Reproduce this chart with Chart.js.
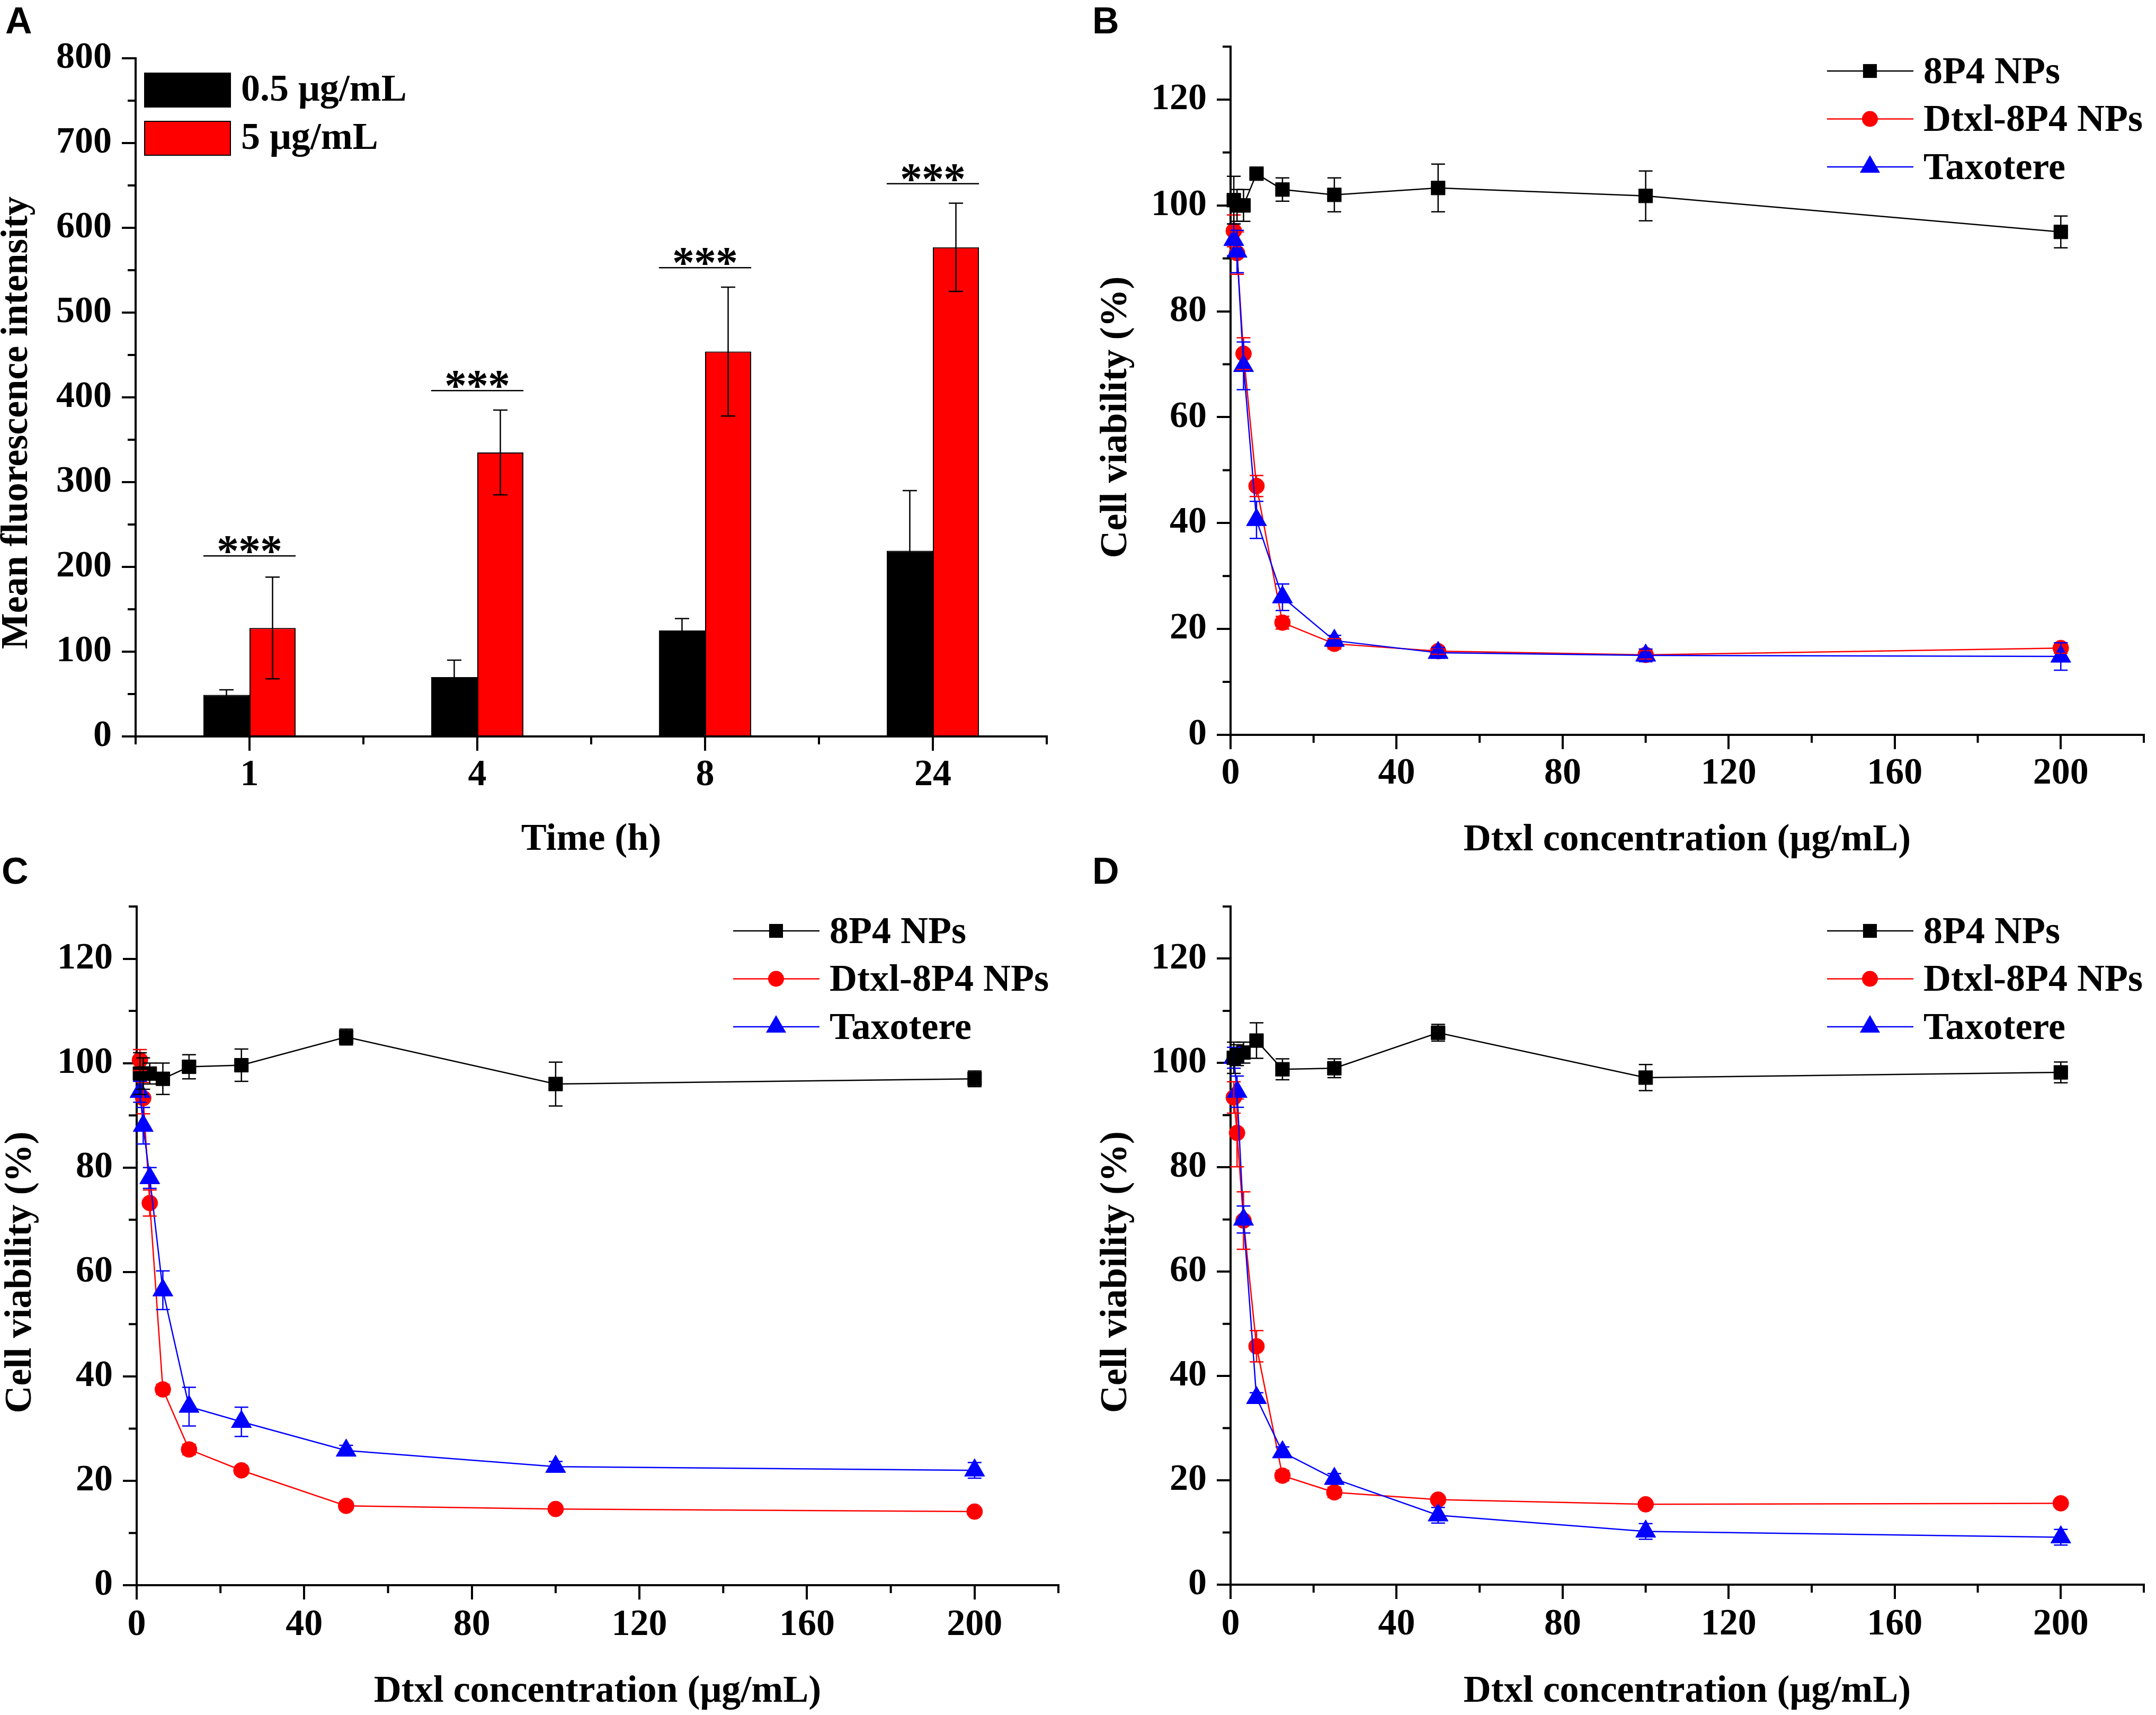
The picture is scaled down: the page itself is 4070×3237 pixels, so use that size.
<!DOCTYPE html>
<html lang="en">
<head>
<meta charset="utf-8">
<title>Uptake and cell viability</title>
<script src="https://cdn.jsdelivr.net/npm/chart.js@4.4.1/dist/chart.umd.min.js"></script>
<style>
  html, body { margin: 0; padding: 0; background: #fff; }
  #page { position: relative; width: 4070px; height: 3237px; overflow: hidden; background: #fff; }
  #page canvas { position: absolute; }
  .letter { position: absolute; margin: 0; color: #000; font: bold 70px "Liberation Sans", Arial, sans-serif; line-height: 70px; }
</style>
</head>
<body>
<div id="page">
  <canvas id="chartA" width="2035" height="1650" style="left:0;top:0;width:2035px;height:1650px"></canvas>
  <canvas id="chartB" width="2035" height="1650" style="left:2035px;top:0;width:2035px;height:1650px"></canvas>
  <canvas id="chartC" width="2035" height="1587" style="left:0;top:1650px;width:2035px;height:1587px"></canvas>
  <canvas id="chartD" width="2035" height="1587" style="left:2035px;top:1650px;width:2035px;height:1587px"></canvas>
  <div class="letter" style="left:10px;top:4px">A</div>
  <div class="letter" style="left:2062px;top:4px">B</div>
  <div class="letter" style="left:3px;top:1609px">C</div>
  <div class="letter" style="left:2062px;top:1609px">D</div>
</div>
<script>
// ---- panel A : mean fluorescence intensity ----
const timeLabels = ["1", "4", "8", "24"];
const mfiLow = [49, 70, 125, 219];
const mfiLowErr = [6, 20, 14, 71];
const mfiHigh = [128, 335, 454, 577];
const mfiHighErr = [60, 50, 76, 52];
const sigLevels = [213, 408, 553, 652];
const mfiTicks = [0, 100, 200, 300, 400, 500, 600, 700, 800];
const mfiMinor = [50, 150, 250, 350, 450, 550, 650, 750];
const timeMinor = [-0.5, 0.5, 1.5, 2.5, 3.5];

// ---- panels B-D : cell viability ----
const conc = [0.78, 1.56, 3.125, 6.25, 12.5, 25, 50, 100, 200];
const concTicks = [0, 40, 80, 120, 160, 200];
const concMinor = [20, 60, 100, 140, 180, 220];
const viabTicks = [0, 20, 40, 60, 80, 100, 120];
const viabMinor = [10, 30, 50, 70, 90, 110, 130];
const seriesNames = ["8P4 NPs", "Dtxl-8P4 NPs", "Taxotere"];

const b8P4 = [101, 100, 100, 106, 103, 102, 103.3, 101.8, 95];
const b8P4Err = [4.5, 3, 3, 1, 2.2, 3.2, 4.5, 4.7, 3];
const bDtxl = [95.2, 91, 72, 47, 21.2, 17.2, 15.8, 15.1, 16.4];
const bDtxlErr = [3, 4, 3, 2, 1.2, 1, 0.6, 0.8, 1];
const bTaxo = [93.5, 91.3, 69.7, 40.6, 26, 17.8, 15.5, 15, 14.8];
const bTaxoErr = [3, 4, 4.5, 3.5, 2.5, 1, 1, 1.2, 2.6];

const c8P4 = [98, 98, 98, 97, 99.3, 99.6, 105, 96, 97];
const c8P4Err = [4, 3, 2, 3, 2.3, 3.1, 1.5, 4.2, 1.5];
const cDtxl = [100.6, 93.3, 73.2, 37.5, 26, 22, 15.2, 14.6, 14.1];
const cDtxlErr = [2, 3, 2.5, 1, 1, 0.8, 0.8, 0.6, 0.6];
const cTaxo = [94.5, 88, 78, 56.5, 34.2, 31.3, 25.8, 22.7, 22];
const cTaxoErr = [2, 3.5, 2, 3.7, 3.7, 2.8, 1, 1, 1.5];

const d8P4 = [101, 101.5, 102, 104.3, 98.8, 99, 105.8, 97.2, 98.2];
const d8P4Err = [3, 2, 2, 3.4, 2, 1.8, 1.6, 2.5, 2];
const dDtxl = [93.4, 86.6, 69.8, 45.7, 20.9, 17.7, 16.3, 15.4, 15.6];
const dDtxlErr = [3, 6.5, 5.5, 3, 1, 1, 0.5, 0.5, 0.5];
const dTaxo = [101, 94.5, 70, 35.8, 25.4, 20.3, 13.3, 10.2, 9.1];
const dTaxoErr = [2, 3, 2.6, 1, 1, 1, 1.5, 1.5, 1.5];

// styles
const serif = '"Liberation Serif", "Times New Roman", serif';
const seriesColors = ["#000000", "#ff0000", "#0000ff"];
const seriesShapes = ["rect", "circle", "triangle"];
const seriesRadius = [18.5, 15, 22];
const seriesOrder = [0, 2, 1];
const tickFont = { family: serif, size: 70, weight: "bold" };
const titleFont = { family: serif, size: 72, weight: "bold", lineHeight: 1 };

Chart.defaults.font.family = serif;
Chart.defaults.font.weight = "bold";
Chart.defaults.color = "#000";

function drawMarker(ctx, style, r, x, y) {
  ctx.beginPath();
  if (style === "rect") {
    const s = r * Math.SQRT1_2;
    ctx.rect(x - s, y - s, 2 * s, 2 * s);
  } else if (style === "triangle") {
    ctx.moveTo(x, y - r);
    ctx.lineTo(x + r * 0.866, y + r / 2);
    ctx.lineTo(x - r * 0.866, y + r / 2);
    ctx.closePath();
  } else {
    ctx.arc(x, y, r, 0, Math.PI * 2);
  }
  ctx.fill();
}

// minor ticks + rotated y title
const axisDecor = {
  id: "axisDecor",
  afterDraw(chart, args, opts) {
    const { ctx, chartArea } = chart;
    const { x, y } = chart.scales;
    ctx.save();
    ctx.strokeStyle = "#000";
    ctx.lineWidth = 4;
    ctx.beginPath();
    opts.xMinor.forEach((v) => {
      const px = x.getPixelForValue(v);
      ctx.moveTo(px, x.top);
      ctx.lineTo(px, x.top + 15);
    });
    opts.yMinor.forEach((v) => {
      const py = y.getPixelForValue(v);
      ctx.moveTo(y.right, py);
      ctx.lineTo(y.right - 15, py);
    });
    ctx.stroke();

    ctx.fillStyle = "#000";
    ctx.font = 'bold 72px ' + serif;
    ctx.textAlign = "center";
    ctx.textBaseline = "middle";
    ctx.translate(chartArea.left - opts.titleDx, (chartArea.top + chartArea.bottom) / 2 + opts.titleDy);
    ctx.rotate(-Math.PI / 2);
    ctx.fillText(opts.yTitle, 0, 0);
    ctx.restore();
  },
};

const errorBars = {
  id: "errorBars",
  afterDatasetsDraw(chart, args, opts) {
    const ctx = chart.ctx;
    const yScale = chart.scales.y;
    ctx.save();
    ctx.lineWidth = opts.width;
    opts.drawOrder.forEach((di) => {
      const ds = chart.data.datasets[di];
      const errs = opts.errors[di];
      ctx.strokeStyle = opts.colors[di];
      chart.getDatasetMeta(di).data.forEach((el, i) => {
        const raw = ds.data[i];
        const val = typeof raw === "object" ? raw.y : raw;
        const top = yScale.getPixelForValue(val + errs[i]);
        const bot = yScale.getPixelForValue(val - errs[i]);
        ctx.beginPath();
        ctx.moveTo(el.x, top);
        ctx.lineTo(el.x, bot);
        ctx.moveTo(el.x - opts.cap, top);
        ctx.lineTo(el.x + opts.cap, top);
        ctx.moveTo(el.x - opts.cap, bot);
        ctx.lineTo(el.x + opts.cap, bot);
        ctx.stroke();
      });
    });
    ctx.restore();
  },
};

// significance bars with *** above each pair
const sigMarks = {
  id: "sigMarks",
  afterDatasetsDraw(chart, args, opts) {
    const ctx = chart.ctx;
    const y = chart.scales.y;
    const lo = chart.getDatasetMeta(0).data;
    const hi = chart.getDatasetMeta(1).data;
    ctx.save();
    ctx.strokeStyle = "#000";
    ctx.fillStyle = "#000";
    ctx.lineWidth = 2.5;
    ctx.font = 'bold 84px ' + serif;
    ctx.textAlign = "center";
    ctx.textBaseline = "alphabetic";
    const d = ctx.measureText("*").actualBoundingBoxDescent || -22;
    opts.levels.forEach((lv, i) => {
      const x0 = lo[i].x - lo[i].width / 2;
      const x1 = hi[i].x + hi[i].width / 2;
      const py = y.getPixelForValue(lv);
      ctx.beginPath();
      ctx.moveTo(x0, py);
      ctx.lineTo(x1, py);
      ctx.stroke();
      const cx = (x0 + x1) / 2;
      const base = py - 5 - d;
      [-1, 0, 1].forEach((k) => ctx.fillText("*", cx + k * opts.gap, base));
    });
    ctx.restore();
  },
};

const boxLegend = {
  id: "boxLegend",
  afterDraw(chart) {
    const { ctx, chartArea } = chart;
    ctx.save();
    ctx.font = 'bold 72px ' + serif;
    ctx.textBaseline = "middle";
    chart.data.datasets.forEach((ds, i) => {
      const top = chartArea.top + 28 + i * 91;
      ctx.fillStyle = ds.backgroundColor;
      ctx.fillRect(chartArea.left + 17, top, 162, 64);
      ctx.strokeStyle = "#000";
      ctx.lineWidth = 2;
      ctx.strokeRect(chartArea.left + 17, top, 162, 64);
      ctx.fillStyle = "#000";
      ctx.fillText(ds.label, chartArea.left + 199, top + 33);
    });
    ctx.restore();
  },
};

const lineLegend = {
  id: "lineLegend",
  afterDraw(chart) {
    const { ctx, chartArea } = chart;
    ctx.save();
    ctx.font = 'bold 72px ' + serif;
    ctx.textBaseline = "middle";
    chart.data.datasets.forEach((ds, i) => {
      const y = chartArea.top + 46 + i * 90.5;
      const x0 = chartArea.left + 1126;
      ctx.strokeStyle = ds.borderColor;
      ctx.lineWidth = ds.borderWidth;
      ctx.beginPath();
      ctx.moveTo(x0, y);
      ctx.lineTo(x0 + 163, y);
      ctx.stroke();
      ctx.fillStyle = ds.backgroundColor;
      drawMarker(ctx, ds.pointStyle, ds.pointRadius, x0 + 81, y);
      ctx.fillStyle = "#000";
      ctx.fillText(ds.label, chartArea.left + 1308, y + 4);
    });
    ctx.restore();
  },
};

function baseAxis(tickLen, pad) {
  return {
    border: { display: true, color: "#000", width: 4 },
    grid: { drawOnChartArea: false, drawTicks: true, tickLength: tickLen, lineWidth: 4, color: "#000" },
    ticks: { padding: pad, autoSkip: false, maxRotation: 0, color: "#000", font: tickFont },
  };
}

function xTitle(text, pad) {
  return { display: true, text: text, color: "#000", font: titleFont, padding: { top: 0, bottom: pad } };
}

const common = {
  responsive: false,
  animation: false,
  devicePixelRatio: 1,
  events: [],
};

// ---- A ----
new Chart(document.getElementById("chartA"), {
  type: "bar",
  data: {
    labels: timeLabels,
    datasets: [
      { label: "0.5 μg/mL", data: mfiLow, backgroundColor: "#000000", borderColor: "#000000", borderWidth: 2 },
      { label: "5 μg/mL", data: mfiHigh, backgroundColor: "#ff0000", borderColor: "#000000", borderWidth: 2 },
    ],
  },
  plugins: [axisDecor, errorBars, sigMarks, boxLegend],
  options: {
    ...common,
    layout: { padding: { left: 0, top: 110, right: 59, bottom: 0 } },
    datasets: { bar: { barPercentage: 1, categoryPercentage: 0.405 } },
    plugins: {
      legend: { display: false },
      tooltip: { enabled: false },
      axisDecor: { xMinor: timeMinor, yMinor: mfiMinor, yTitle: "Mean fluorescence intensity", titleDx: 224, titleDy: 48 },
      errorBars: { errors: [mfiLowErr, mfiHighErr], colors: ["#000", "#000"], cap: 13.5, width: 2.5, drawOrder: [0, 1] },
      sigMarks: { levels: sigLevels, gap: 41 },
    },
    scales: {
      x: {
        ...baseAxis(27, 5),
        type: "category",
        offset: true,
        grid: { offset: false, drawOnChartArea: false, drawTicks: true, tickLength: 27, lineWidth: 4, color: "#000" },
        title: xTitle("Time (h)", 29),
        afterFit: (s) => { s.height = 260; },
      },
      y: {
        ...baseAxis(26, 19),
        min: 0,
        max: 800,
        afterBuildTicks: (s) => { s.ticks = mfiTicks.map((v) => ({ value: v })); },
        afterFit: (s) => { s.width = 256; },
      },
    },
  },
});

// ---- B, C, D ----
function viabilityChart(id, vals, errs, frame) {
  const datasets = seriesNames.map((name, k) => ({
    label: name,
    data: conc.map((c, i) => ({ x: c, y: vals[k][i] })),
    borderColor: seriesColors[k],
    backgroundColor: seriesColors[k],
    borderWidth: 2.5,
    pointStyle: seriesShapes[k],
    pointRadius: seriesRadius[k],
    pointBorderWidth: 1,
    tension: 0,
    order: seriesOrder[k],
    clip: false,
  }));

  return new Chart(document.getElementById(id), {
    type: "line",
    data: { datasets },
    plugins: [axisDecor, errorBars, lineLegend],
    options: {
      ...common,
      layout: { padding: frame.padding },
      plugins: {
        legend: { display: false },
        tooltip: { enabled: false },
        axisDecor: { xMinor: concMinor, yMinor: viabMinor, yTitle: "Cell viability (%)", titleDx: frame.titleDx, titleDy: 50 },
        errorBars: { errors: errs, colors: seriesColors, cap: 13, width: 2.5, drawOrder: [1, 2, 0] },
      },
      scales: {
        x: {
          ...baseAxis(27, frame.xPad),
          type: "linear",
          min: 0,
          max: 220,
          afterBuildTicks: (s) => { s.ticks = concTicks.map((v) => ({ value: v })); },
          title: xTitle("Dtxl concentration (μg/mL)", frame.titlePad),
          afterFit: (s) => { s.height = frame.xHeight; },
        },
        y: {
          ...baseAxis(26, 19),
          min: 0,
          max: 130,
          afterBuildTicks: (s) => { s.ticks = viabTicks.map((v) => ({ value: v })); },
          afterFit: (s) => { s.width = frame.yWidth; },
        },
      },
    },
  });
}

viabilityChart("chartB", [b8P4, bDtxl, bTaxo], [b8P4Err, bDtxlErr, bTaxoErr], {
  padding: { left: 0, top: 88, right: 4, bottom: 0 },
  yWidth: 288, xHeight: 263, xPad: 5, titlePad: 28, titleDx: 216,
});

viabilityChart("chartC", [c8P4, cDtxl, cTaxo], [c8P4Err, cDtxlErr, cTaxoErr], {
  padding: { left: 0, top: 49, right: 37, bottom: 0 },
  yWidth: 258, xHeight: 245, xPad: 7, titlePad: 8, titleDx: 219,
});

viabilityChart("chartD", [d8P4, dDtxl, dTaxo], [d8P4Err, dDtxlErr, dTaxoErr], {
  padding: { left: 0, top: 50, right: 4, bottom: 0 },
  yWidth: 288, xHeight: 246, xPad: 7, titlePad: 8, titleDx: 216,
});
</script>
</body>
</html>
